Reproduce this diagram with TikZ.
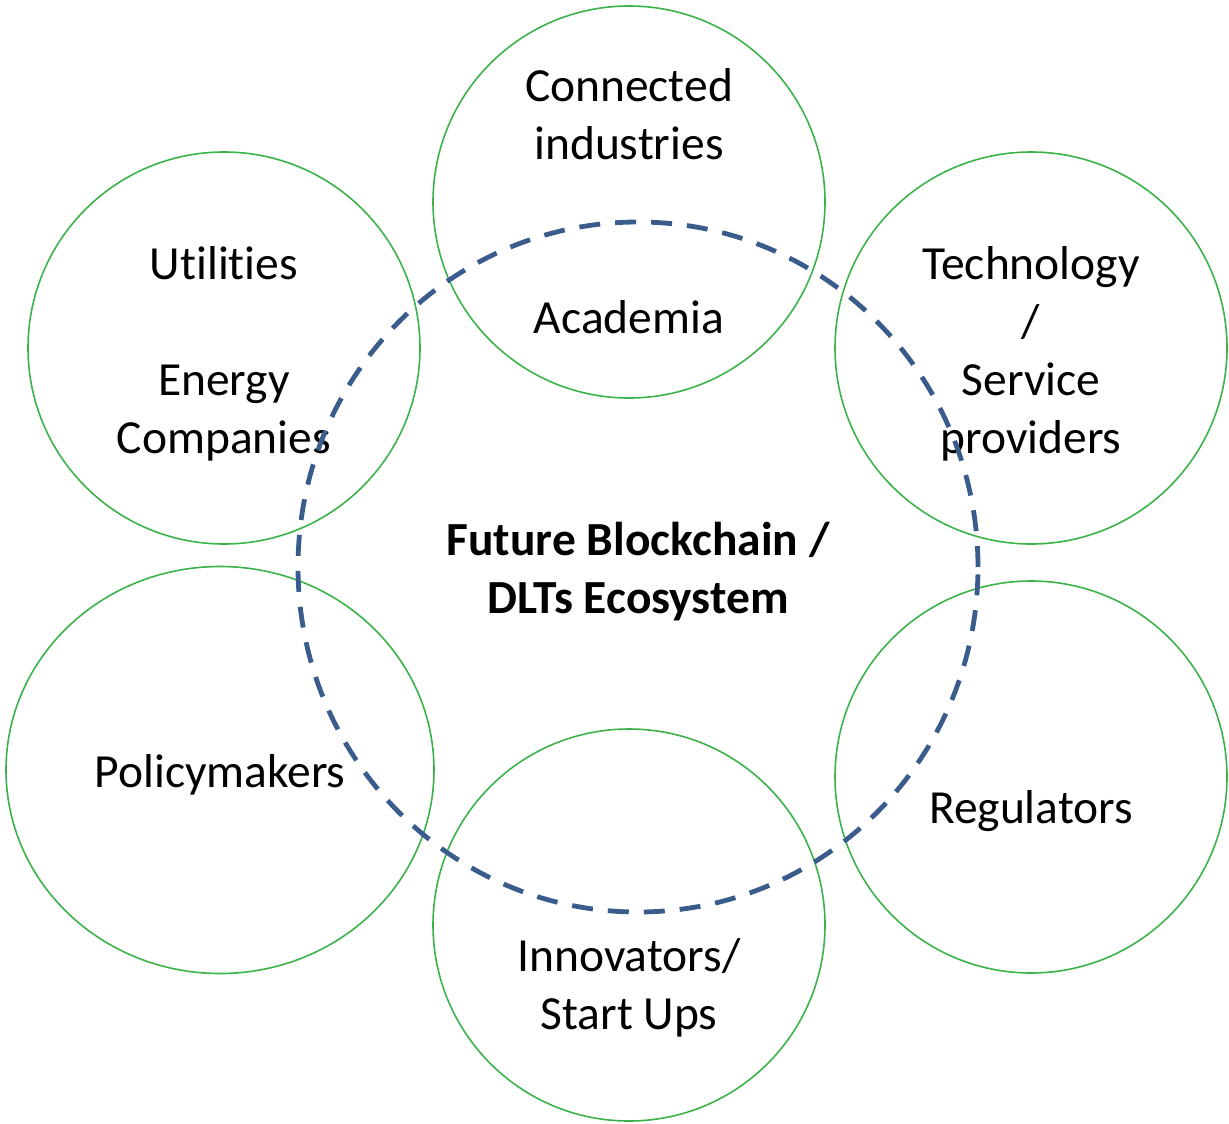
\documentclass[tikz,border=0pt]{standalone}
\usepackage{fontspec}
\setmainfont[Ligatures=NoCommon]{Carlito}
\usetikzlibrary{shapes.geometric}
\definecolor{ringgreen}{RGB}{59,178,74}
\definecolor{ecoblue}{RGB}{58,92,140}
\newcommand{\bigtext}{\fontsize{47.5pt}{58pt}\selectfont}

\begin{document}
\begin{tikzpicture}[x=1pt, y=-1pt,
  ring/.style={draw=ringgreen, line width=1.6pt, circle, inner sep=0pt,
    minimum size=392pt},
  ecoring/.style={draw=ecoblue, line width=4.8pt, dash pattern=on 21pt off 15pt,
    ellipse, inner sep=0pt, minimum width=680pt, minimum height=690pt},
  lbl/.style={align=center, font=\bigtext, inner sep=0pt}]
  \useasboundingbox (0,0) rectangle (1229,1124);

  % stakeholder circles
  \node[ring] (academia) at (629,202) {};
  \node[ring] (energy) at (224,348) {};
  \node[ring] (tech) at (1031,348) {};
  \node[ring, ellipse, minimum width=428pt, minimum height=407pt] (policy) at (220,770) {};
  \node[ring] (regul) at (1031,777) {};
  \node[ring] (innov) at (629,925) {};

  % stakeholder labels
  \node[lbl] (academiatext) at (629,201) {Connected\\industries\\[116pt]Academia};
  \node[lbl] (energytext) at (224,354) {Utilities\\[58pt]Energy\\Companies};
  \node[lbl] (techtext) at (1031,354) {Technology\\/\\Service\\providers};
  \node[lbl] (policytext) at (220,775) {Policymakers};
  \node[lbl] (regultext) at (1031,811) {Regulators};
  \node[lbl] (innovtext) at (629,988) {Innovators/\\Start Ups};

  % ecosystem
  \node[ecoring] (eco) at (638,567) {};
  \node[lbl, font=\bigtext\bfseries] (ecotext) at (638,572) {Future Blockchain /\\DLTs Ecosystem};
\end{tikzpicture}
\end{document}
